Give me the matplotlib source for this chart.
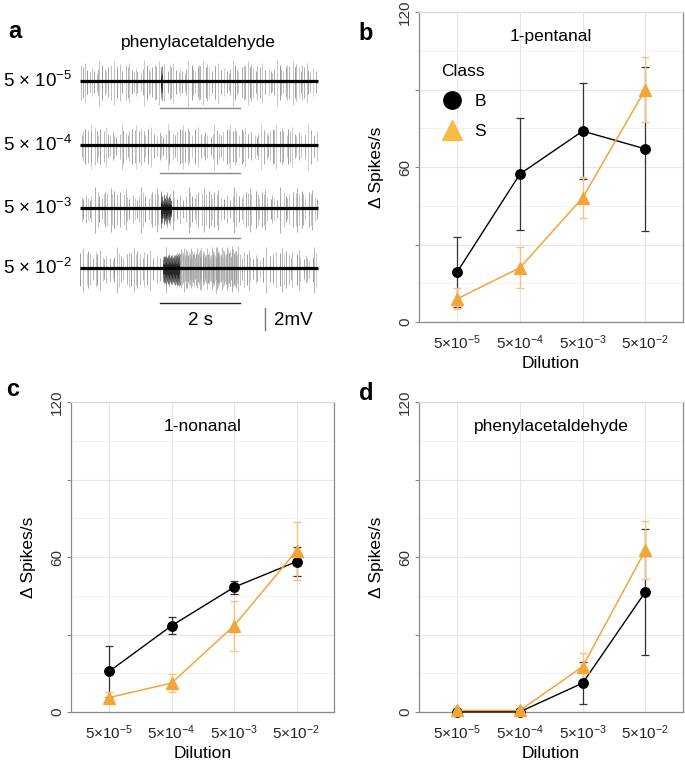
import numpy as np
import matplotlib
matplotlib.use("Agg")
import matplotlib.pyplot as plt
from matplotlib.lines import Line2D

plt.rcParams['font.family'] = ['Liberation Sans', 'DejaVu Sans']
plt.rcParams['mathtext.fontset'] = 'custom'
plt.rcParams['mathtext.rm'] = 'Liberation Sans'
plt.rcParams['mathtext.it'] = 'Liberation Sans:italic'
plt.rcParams['mathtext.bf'] = 'Liberation Sans:bold'

# ---------------- data ----------------
dilutions = ["5e-5", "5e-4", "5e-3", "5e-2"]
dil_labels = [r"$\mathregular{5{\times}10^{-5}}$", r"$\mathregular{5{\times}10^{-4}}$",
              r"$\mathregular{5{\times}10^{-3}}$", r"$\mathregular{5{\times}10^{-2}}$"]
classes = ["B", "S"]

pentanal_B = [19.4, 57.3, 73.9, 67.0]
pentanal_B_err = [13.5, 21.8, 18.5, 31.6]
pentanal_S = [9.0, 21.0, 48.1, 90.0]
pentanal_S_err = [4.0, 8.0, 8.0, 12.7]

nonanal_B = [15.7, 33.4, 48.3, 58.2]
nonanal_B_err = [10.0, 3.2, 2.5, 5.6]
nonanal_S = [5.6, 11.2, 33.4, 62.4]
nonanal_S_err = [2.3, 3.5, 9.7, 11.3]

phenyl_B = [0.1, 0.1, 11.2, 46.5]
phenyl_B_err = [0.0, 0.0, 8.0, 24.5]
phenyl_S = [0.6, 0.6, 17.6, 62.6]
phenyl_S_err = [0.0, 0.0, 5.4, 11.2]

# spike-trace description (panel a): background spike rate (spikes/s)
trace_labels = [r"5 × 10$^{\mathregular{-5}}$", r"5 × 10$^{\mathregular{-4}}$",
                r"5 × 10$^{\mathregular{-3}}$", r"5 × 10$^{\mathregular{-2}}$"]
bg_rate = [19, 18, 18, 17]
# response bursts: (start s, end s, rate spikes/s, amplitude start, amplitude end, dark)
bursts = [
    [(2.0, 2.06, 40, 1.0, 1.0, 1)],
    [],
    [(2.02, 2.28, 110, 0.9, 0.8, 1)],
    [(2.08, 2.5, 190, 0.8, 0.9, 1), (2.5, 3.95, 55, 1.0, 1.15, 0)],
]
jitter = [0.0, 0.38, -0.22, 0.45, -0.35, 0.12, -0.05, 0.27, -0.44, 0.18, -0.14, 0.36,
          -0.28, 0.07, 0.41, -0.4, 0.22, -0.18, 0.3, -0.09, 0.46, -0.31, 0.05, -0.47]
amp_pattern = [1.0, 0.75, 0.9, 0.6, 1.15, 0.85, 0.7, 1.0, 0.55, 0.95, 0.8, 1.25, 0.65,
               0.9, 0.5, 1.05, 0.72, 0.88, 1.3, 0.62, 0.97]
shade_pattern = ['#b4b4b4', '#a0a0a0', '#bdbdbd', '#8c8c8c', '#adadad', '#c4c4c4', '#999999']

# ---------------- figure ----------------
W, H = 685, 761
fig = plt.figure(figsize=(W / 100, H / 100), dpi=100)

def px_rect(x0, x1, y0, y1):
    return [x0 / W, 1 - y1 / H, (x1 - x0) / W, (y1 - y0) / H]

# ---------- panel a ----------
axa = fig.add_axes(px_rect(0, 340, 0, 340))
axa.set_xlim(-2.0, 6.5)
axa.set_ylim(-0.4545, 30.45)
axa.axis('off')
row_off = [23.09, 17.27, 11.55, 6.09]
stim_y = [20.64, 14.73, 8.82, 2.91]
t0, t1 = 0.0, 5.95

for r in range(4):
    off = row_off[r]
    n = int(bg_rate[r] * (t1 - t0))
    dt = (t1 - t0) / n
    for i in range(n):
        t = t0 + (i + 0.5 + jitter[(i * 5 + 7 * r) % len(jitter)]) * dt
        a = amp_pattern[(i * 2 + 3 * r) % len(amp_pattern)]
        c = shade_pattern[(i + r) % len(shade_pattern)]
        axa.vlines(t, off - 1.75 * a, off + 1.45 * a, color=c, lw=0.6, zorder=2)
    for (bs, be, rate, a0, a1, dark) in bursts[r]:
        nb = max(1, int(rate * (be - bs)))
        dtb = (be - bs) / nb
        for i in range(nb):
            t = bs + (i + 0.5 + 0.6 * jitter[(i * 3) % len(jitter)]) * dtb
            env = a0 + (a1 - a0) * (i / max(1, nb - 1))
            a = amp_pattern[(i * 3 + 1) % len(amp_pattern)] * env
            if dark:
                axa.vlines(t, off - 1.5 * a, off + 1.2 * a, color='#5a5a5a', lw=0.5, zorder=3)
                axa.vlines(t, off - 0.9 * a, off + 0.55 * a, color='#1a1a1a', lw=0.5, zorder=3)
            else:
                axa.vlines(t, off - 1.55 * a, off + 1.5 * a,
                           color=shade_pattern[i % len(shade_pattern)], lw=0.55, zorder=3)
    axa.plot([t0, t1], [off, off], color='black', lw=2.3, zorder=4, solid_capstyle='butt')
    axa.plot([2.0, 4.0], [stim_y[r], stim_y[r]], color='#888888' if r < 3 else '#222222', lw=1.0)
    axa.text(-0.2, off, trace_labels[r], ha='right', va='center', fontsize=13.5)

axa.plot([4.625, 4.625], [0.45, 2.45], color='#777777', lw=1.0)
axa.text(3.0, 1.3, "2 s", ha='center', va='center', fontsize=13.5)
axa.text(4.85, 1.3, "2mV", ha='left', va='center', fontsize=13.5)
axa.text(2.95, 26.55, "phenylacetaldehyde", ha='center', va='center', fontsize=12.5)

# ---------- line panels ----------
C_B = '#000000'
C_S = '#F4A53A'
C_S_ERR = '#F8C27A'
xs = np.arange(1, 5)

def panel(rect, title, yB, eB, yS, eS, legend=False):
    ax = fig.add_axes(rect)
    ax.set_xlim(0.39, 4.6)
    ax.set_ylim(0, 120)
    ax.set_yticks([0, 30, 60, 90, 120])
    ax.set_yticklabels(["0", "", "60", "", "120"])
    ax.set_yticks([15, 45, 75, 105], minor=True)
    ax.set_xticks(xs)
    ax.set_xticklabels(dil_labels)
    ax.grid(True, which='major', color='#e6e6e6', lw=0.8)
    ax.grid(True, which='minor', axis='y', color='#f0f0f0', lw=0.6)
    ax.set_axisbelow(True)
    ax.tick_params(axis='y', which='major', length=3, color='#888888', labelsize=11,
                   labelcolor='#333333', pad=2)
    ax.tick_params(axis='y', which='minor', length=0)
    for lab in ax.get_yticklabels():
        lab.set_rotation(90)
        lab.set_va('center')
    ax.tick_params(axis='x', length=0, labelsize=11, labelcolor='#222222', pad=8)
    for s in ['left', 'bottom']:
        ax.spines[s].set_color('#8a8a8a'); ax.spines[s].set_linewidth(0.9)
    ax.spines['right'].set_color('#8a8a8a'); ax.spines['right'].set_linewidth(0.9)
    ax.spines['top'].set_color('#dddddd'); ax.spines['top'].set_linewidth(0.9)
    ax.errorbar(xs, yB, yerr=eB, fmt='none', ecolor='#333333', elinewidth=0.9,
                capsize=3, capthick=0.9, zorder=3)
    ax.errorbar(xs, yS, yerr=eS, fmt='none', ecolor=C_S_ERR, elinewidth=1.0,
                capsize=3, capthick=1.0, zorder=3)
    ax.plot(xs, yB, color=C_B, lw=1.0, marker='o', ms=6.8, zorder=4, clip_on=False)
    ax.plot(xs, yS, color=C_S, lw=1.1, marker='^', ms=9, zorder=5, clip_on=False)
    ax.set_xlabel("Dilution", fontsize=12.5, labelpad=3)
    ax.set_ylabel("Δ Spikes/s", fontsize=12.5, labelpad=10)
    ax.text(0.5, 0.922, title, transform=ax.transAxes, ha='center', va='center', fontsize=12.5)
    if legend:
        handles = [Line2D([], [], ls='none', marker='o', color='black', ms=12.5),
                   Line2D([], [], ls='none', marker='^', color='#F8BC45', ms=14)]
        lg = ax.legend(handles, classes, title="Class", loc='upper left',
                       bbox_to_anchor=(0.058, 0.855), frameon=False, fontsize=12.5,
                       title_fontsize=12.5, handletextpad=0.7, labelspacing=0.85,
                       borderaxespad=0, handlelength=1.2)
        lg._legend_box.align = 'left'
    return ax

panel(px_rect(419, 683, 12, 322), "1-pentanal", pentanal_B, pentanal_B_err,
      pentanal_S, pentanal_S_err, legend=True)
panel(px_rect(71, 334, 402, 712), "1-nonanal", nonanal_B, nonanal_B_err,
      nonanal_S, nonanal_S_err)
panel(px_rect(419, 683, 402, 712), "phenylacetaldehyde", phenyl_B, phenyl_B_err,
      phenyl_S, phenyl_S_err)

# panel letters
for lt, (x, y) in {"a": (15, 32), "b": (366, 33), "c": (13, 390), "d": (366, 393)}.items():
    fig.text(x / W, 1 - y / H, lt, ha='center', va='center', fontsize=17, fontweight='bold')

fig.savefig("out.png", dpi=100)
